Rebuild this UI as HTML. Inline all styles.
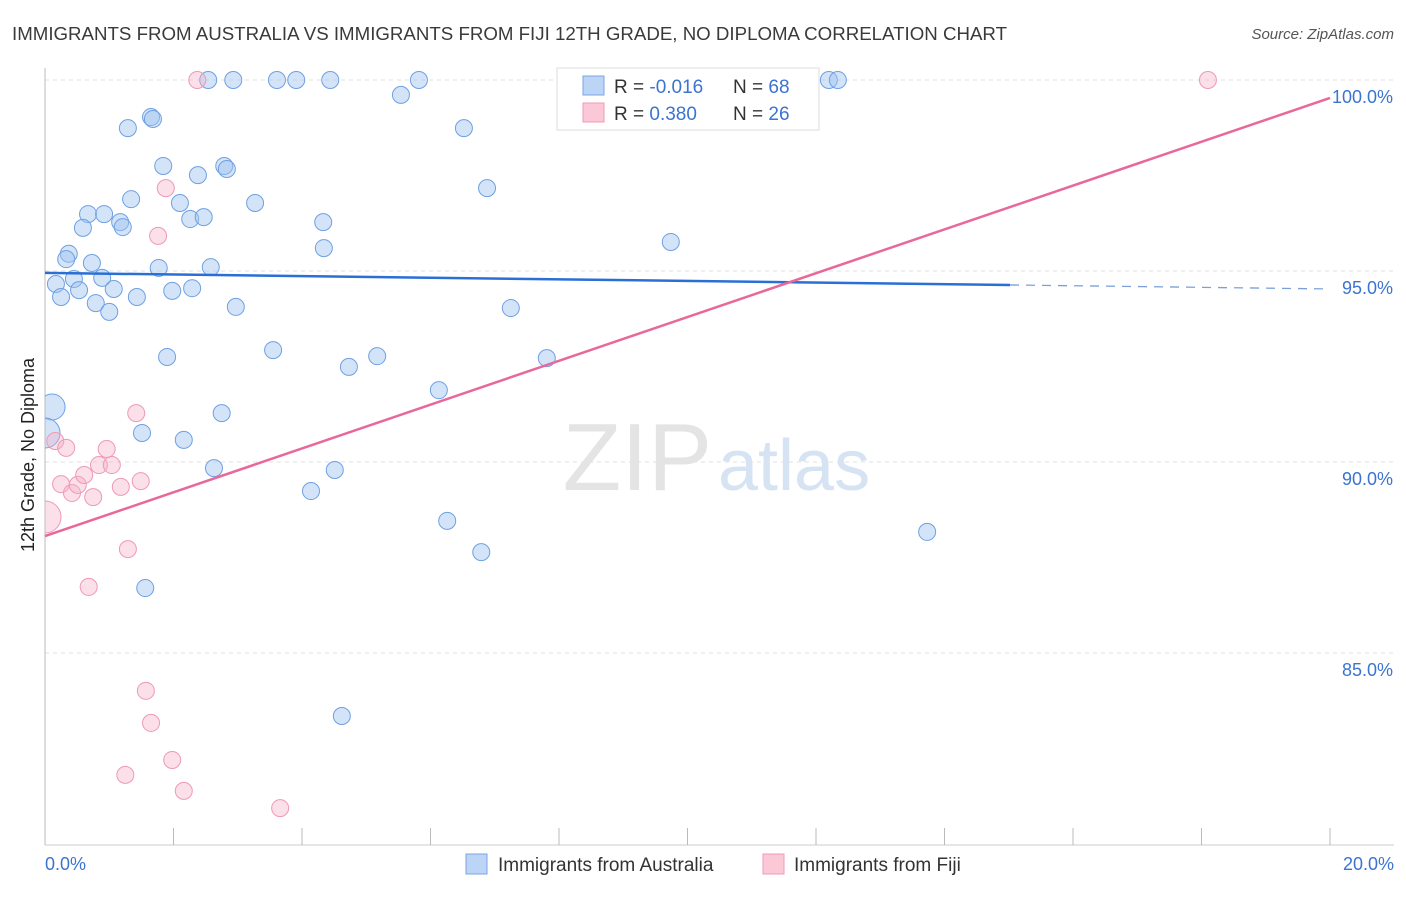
<!DOCTYPE html>
<html><head><meta charset="utf-8"><style>
body{margin:0;background:#fff;font-family:"Liberation Sans",sans-serif}
svg text{font-family:"Liberation Sans",sans-serif}
</style></head><body>
<svg width="1406" height="892" xmlns="http://www.w3.org/2000/svg">
<defs><clipPath id="plotclip"><rect x="45" y="60" width="1361" height="785"/></clipPath></defs>
<text x="12" y="40" font-size="18" fill="#3a3a3a" textLength="995" lengthAdjust="spacingAndGlyphs">IMMIGRANTS FROM AUSTRALIA VS IMMIGRANTS FROM FIJI 12TH GRADE, NO DIPLOMA CORRELATION CHART</text>
<text x="1394" y="39" font-size="15" fill="#555" text-anchor="end" font-style="italic">Source: ZipAtlas.com</text>
<g id="grid"></g>
<text x="712" y="490" font-size="96" fill="#e4e4e4" text-anchor="end" font-family="Liberation Serif">ZIP</text>
<text x="718" y="490" font-size="72" fill="#d6e3f3">atlas</text>
<line x1="45" y1="68" x2="45" y2="845" stroke="#bbb"/>
<line x1="45" y1="845" x2="1394" y2="845" stroke="#ccc"/>
<g id="xticks"></g>
<g id="pts" clip-path="url(#plotclip)"></g>
<g id="trends"></g>
<text x="34" y="455" font-size="18" fill="#222" text-anchor="middle" transform="rotate(-90 34 455)">12th Grade, No Diploma</text>
<text x="45" y="870" font-size="18" fill="#3b74d0">0.0%</text>
<text x="1394" y="870" font-size="18" fill="#3b74d0" text-anchor="end">20.0%</text>
<g>
<rect x="557" y="68" width="262" height="62" fill="#fff" stroke="#ddd"/>
<rect x="583" y="76" width="21" height="19" fill="#bcd4f5" stroke="#7aa6e6"/>
<rect x="583" y="103" width="21" height="19" fill="#fbc8d8" stroke="#f09ab5"/>
<text x="614" y="93" font-size="19" fill="#333">R = <tspan fill="#3b74d0">-0.016</tspan></text>
<text x="733" y="93" font-size="19" fill="#333">N = <tspan fill="#3b74d0">68</tspan></text>
<text x="614" y="120" font-size="19" fill="#333">R = <tspan fill="#3b74d0"> 0.380</tspan></text>
<text x="733" y="120" font-size="19" fill="#333">N = <tspan fill="#3b74d0">26</tspan></text>
</g>
<g>
<rect x="466" y="854" width="21" height="20" fill="#bcd4f5" stroke="#7aa6e6"/>
<text x="498" y="871" font-size="19" fill="#333">Immigrants from Australia</text>
<rect x="763" y="854" width="21" height="20" fill="#fbc8d8" stroke="#f09ab5"/>
<text x="794" y="871" font-size="19" fill="#333">Immigrants from Fiji</text>
</g>
</svg>
<script>
const yTicks=[100,95,90,85];
const yTickLabels=["100.0%","95.0%","90.0%","85.0%"];
const xTickVals=[0,2,4,6,8,10,12,14,16,18,20];
const ausX=[2.54,2.93,3.61,3.91,4.44,5.82,12.20,12.34,5.54,1.29,1.65,1.68,6.52,1.84,2.79,2.83,2.38,6.88,1.34,2.10,3.27,0.67,0.92,1.17,1.21,2.26,2.47,0.59,4.33,4.34,9.74,0.37,0.33,0.73,1.77,2.58,0.17,0.45,0.89,0.53,0.25,1.07,0.79,1.00,1.43,1.98,2.29,2.97,7.25,1.90,3.55,5.17,4.73,7.81,6.13,0.11,0.0,2.75,1.51,2.16,4.51,2.63,4.14,6.26,6.79,13.73,1.56,4.62];
const ausY=[100,100,100,100,100,100,100,100,99.61,98.74,99.03,98.98,98.74,97.75,97.75,97.67,97.51,97.17,96.88,96.78,96.78,96.49,96.49,96.28,96.15,96.36,96.41,96.13,96.28,95.60,95.76,95.45,95.31,95.21,95.08,95.10,94.66,94.79,94.82,94.50,94.32,94.53,94.16,93.93,94.32,94.48,94.55,94.06,94.03,92.75,92.93,92.77,92.49,92.72,91.88,91.44,90.76,91.28,90.76,90.58,89.79,89.84,89.24,88.46,87.64,88.17,86.70,83.35];
const fijiX=[2.37,18.10,1.88,1.76,0.16,0.33,1.42,0.96,0.25,0.42,0.51,0.61,0.84,1.04,0.75,1.18,1.49,0.0,1.29,0.68,1.57,1.65,1.98,1.25,2.16,3.66];
const fijiY=[100,100,97.17,95.92,90.55,90.37,91.28,90.34,89.42,89.19,89.40,89.66,89.92,89.92,89.08,89.35,89.50,88.56,87.72,86.73,84.01,83.17,82.20,81.81,81.39,80.94];
const ausTrend=[94.95,94.53];
const fijiTrend=[88.06,99.53];
const ausSolidEnd=15.02;
const NS="http://www.w3.org/2000/svg";
const sx=v=>45+v/20*1285;
const sy=v=>80+(100-v)*38.2;
function mk(t,a,p){const e=document.createElementNS(NS,t);for(const k in a)e.setAttribute(k,a[k]);p.appendChild(e);return e;}
const grid=document.getElementById('grid');
yTicks.forEach((v,i)=>{
 const l=mk('line',{x1:45,x2:1394,y1:sy(v),y2:sy(v),stroke:'#e0e0e0','stroke-dasharray':'4,4'},grid);
 
 
 const t=mk('text',{x:1393,y:sy(v)+23,'font-size':18,fill:'#3b74d0','text-anchor':'end'},grid);
 t.textContent=yTickLabels[i];
 
 
});
const xt=document.getElementById('xticks');
xTickVals.forEach(v=>{
 const l=mk('line',{x1:sx(v),x2:sx(v),y1:828,y2:845,stroke:'#bbb'},xt);
 
 
});
const pts=document.getElementById('pts');
function big(x,y){return x<0.2&&y<91.6&&y>88;}
ausX.forEach((x,i)=>{
 const r=big(x,ausY[i])?(x<0.05?15:13):8.5;
 const c=mk('circle',{cx:sx(x),cy:sy(ausY[i]),r:r,fill:'rgba(160,196,240,0.45)',stroke:'#6fa0e2','stroke-width':1},pts);
 
 
});
fijiX.forEach((x,i)=>{
 const r=(x<0.05&&fijiY[i]<89)?16:8.5;
 const c=mk('circle',{cx:sx(x),cy:sy(fijiY[i]),r:r,fill:'rgba(246,176,200,0.4)',stroke:'#ee9ab5','stroke-width':1},pts);
 
 
});
const tr=document.getElementById('trends');
const ay=x=>ausTrend[0]+(ausTrend[1]-ausTrend[0])*x/20;
let l1=mk('line',{x1:sx(0),y1:sy(ay(0)),x2:sx(ausSolidEnd),y2:sy(ay(ausSolidEnd)),stroke:'#2a6fd6','stroke-width':2.5},tr);


let l2=mk('line',{x1:sx(ausSolidEnd),y1:sy(ay(ausSolidEnd)),x2:sx(20),y2:sy(ay(20)),stroke:'#7aa0d8','stroke-width':1.3,'stroke-dasharray':'9,7'},tr);


let l3=mk('line',{x1:sx(0),y1:sy(fijiTrend[0]),x2:sx(20),y2:sy(fijiTrend[1]),stroke:'#e8689a','stroke-width':2.5},tr);


</script>
</body></html>
